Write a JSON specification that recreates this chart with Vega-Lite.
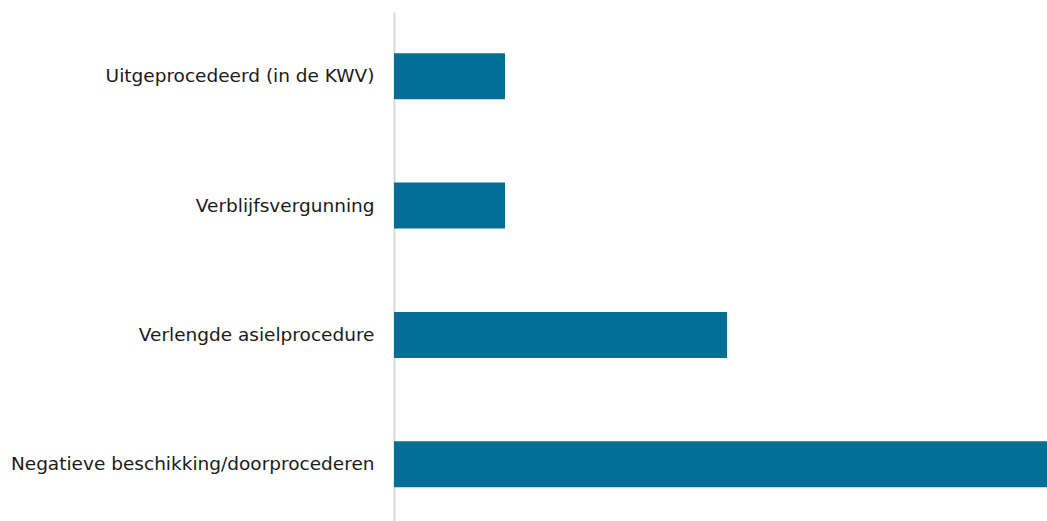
{
  "$schema": "https://vega.github.io/schema/vega-lite/v6.json",
  "width": 653,
  "height": 509,
  "autosize": {"type": "none"},
  "padding": {"left": 394, "top": 12, "right": 0, "bottom": 0},
  "background": "white",
  "config": {"view": {"stroke": null}},
  "data": {
    "values": [
      {"categorie": "Uitgeprocedeerd (in de KWV)", "waarde": 17},
      {"categorie": "Verblijfsvergunning\u00a0", "waarde": 17},
      {"categorie": "Verlengde asielprocedure", "waarde": 51},
      {"categorie": "Negatieve beschikking/doorprocederen", "waarde": 100}
    ]
  },
  "mark": {"type": "bar", "color": "#036f96"},
  "encoding": {
    "y": {
      "field": "categorie",
      "type": "nominal",
      "sort": null,
      "scale": {"paddingInner": 0.644, "paddingOuter": 0.29, "align": 0.55},
      "axis": {
        "title": null,
        "ticks": false,
        "labelPadding": 20,
        "labelFont": "DejaVu Sans",
        "labelFontSize": 18.5,
        "labelColor": "#1a1a1a",
        "labelLimit": 400,
        "domainColor": "#d9d9d9",
        "domainWidth": 2
      }
    },
    "x": {
      "field": "waarde",
      "type": "quantitative",
      "scale": {"domain": [0, 100], "nice": false},
      "axis": null
    }
  }
}
